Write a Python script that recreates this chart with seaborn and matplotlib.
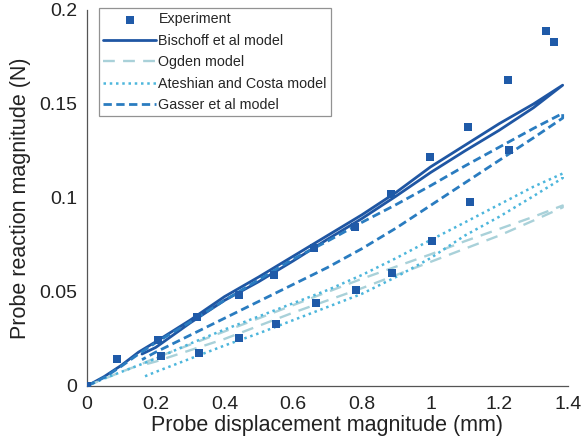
import numpy as np
import pandas as pd
import matplotlib as mpl
import matplotlib.pyplot as plt
import seaborn as sns

sns.set_style("white")
mpl.rcParams['font.family'] = ['Liberation Sans', 'DejaVu Sans']

# experiment (loading then unloading)
exp_x = [0.0, 0.087, 0.207, 0.32, 0.443, 0.545, 0.662, 0.78, 0.886, 1.0, 1.11, 1.227, 1.337,
         1.36, 1.23, 1.116, 1.005, 0.889, 0.784, 0.667, 0.551, 0.443, 0.326, 0.216]
exp_y = [0.0, 0.0144, 0.0245, 0.0367, 0.0484, 0.059, 0.0734, 0.0846, 0.102, 0.1218, 0.138, 0.163, 0.189,
         0.183, 0.1255, 0.098, 0.077, 0.060, 0.051, 0.044, 0.033, 0.0255, 0.0176, 0.016]

# model curves: loading branch followed by unloading branch
load_x = [0.0, 0.05, 0.1, 0.15, 0.2, 0.3, 0.4, 0.5, 0.6, 0.7, 0.8, 0.9, 1.0, 1.1, 1.2, 1.3, 1.385]
unload_x = [1.385, 1.3, 1.2, 1.1, 1.0, 0.9, 0.8, 0.7, 0.6, 0.5, 0.4, 0.3, 0.2, 0.16]

bischoff_load = [0.0, 0.005, 0.011, 0.018, 0.0235, 0.035, 0.0475, 0.058, 0.069, 0.080, 0.091, 0.103,
                 0.1165, 0.128, 0.1395, 0.150, 0.160]
bischoff_unload = [0.160, 0.148, 0.136, 0.125, 0.1135, 0.101, 0.089, 0.078, 0.0665, 0.0555, 0.0455,
                   0.0335, 0.0205, 0.017]

ogden_load = [0.0, 0.0038, 0.0075, 0.011, 0.015, 0.022, 0.029, 0.036, 0.043, 0.050, 0.057, 0.0635,
              0.070, 0.077, 0.0835, 0.090, 0.096]
ogden_unload = [0.095, 0.088, 0.080, 0.073, 0.066, 0.059, 0.052, 0.0455, 0.039, 0.032, 0.025, 0.019,
                0.013, 0.011]

ateshian_load = [0.0, 0.004, 0.0075, 0.011, 0.0145, 0.0225, 0.030, 0.037, 0.044, 0.051, 0.059, 0.068,
                 0.0776, 0.087, 0.0965, 0.106, 0.113]
ateshian_unload = [0.1106, 0.101, 0.090, 0.080, 0.068, 0.058, 0.049, 0.042, 0.035, 0.028, 0.0215,
                   0.0145, 0.0075, 0.0045]

gasser_load = [0.0, 0.0045, 0.0105, 0.017, 0.023, 0.034, 0.0455, 0.0565, 0.0675, 0.077, 0.087, 0.0965,
               0.1065, 0.117, 0.127, 0.137, 0.145]
gasser_unload = [0.1425, 0.132, 0.120, 0.108, 0.096, 0.084, 0.073, 0.063, 0.054, 0.045, 0.036, 0.027,
                 0.018, 0.014]

models = [
    ("Bischoff et al model", bischoff_load, bischoff_unload, "#1f56a3", "-", 2.0),
    ("Ogden model", ogden_load, ogden_unload, "#a9d1d9", (0, (5, 3.5)), 1.7),
    ("Ateshian and Costa model", ateshian_load, ateshian_unload, "#4db6dc", (0, (1, 1.5)), 1.8),
    ("Gasser et al model", gasser_load, gasser_unload, "#2a7cc0", (0, (3, 1.6)), 2.0),
]

fig = plt.figure(figsize=(5.86, 4.45), dpi=100)
ax = fig.add_axes([0.1485, 0.1326, 0.8205, 0.845])

sns.scatterplot(x=exp_x, y=exp_y, marker="s", s=38, color="#1f5aa8", edgecolor="#1f5aa8",
                linewidth=0, ax=ax, label="Experiment", zorder=5)

for name, yl, yu, col, ls, lw in models:
    df = pd.DataFrame({"x": load_x + unload_x, "y": yl + yu})
    sns.lineplot(data=df, x="x", y="y", sort=False, estimator=None, color=col, linestyle=ls,
                 linewidth=lw, ax=ax, label=name)

ax.set_xlim(0, 1.4)
ax.set_ylim(0, 0.2)
ax.set_xticks([0, 0.2, 0.4, 0.6, 0.8, 1.0, 1.2, 1.4])
ax.set_xticklabels(["0", "0.2", "0.4", "0.6", "0.8", "1", "1.2", "1.4"])
ax.set_yticks([0, 0.05, 0.1, 0.15, 0.2])
ax.set_yticklabels(["0", "0.05", "0.1", "0.15", "0.2"])
ax.tick_params(direction="in", length=4, labelsize=14, colors="#222222", width=0.8, pad=7)
for s in ["top", "right"]:
    ax.spines[s].set_visible(False)
for s in ["left", "bottom"]:
    ax.spines[s].set_color("#555555")
    ax.spines[s].set_linewidth(0.9)

ax.set_xlabel("Probe displacement magnitude (mm)", fontsize=15.5, color="#222222", labelpad=2)
ax.set_ylabel("Probe reaction magnitude (N)", fontsize=15.5, color="#222222", labelpad=6)

leg = ax.legend(loc="upper left", bbox_to_anchor=(0.025, 1.005), fontsize=10.3, frameon=True,
                fancybox=False, handlelength=3.7, handletextpad=0.15, borderpad=0.3,
                labelspacing=0.52, borderaxespad=0)
leg.get_frame().set_edgecolor("#777777")
leg.get_frame().set_linewidth(0.9)

fig.savefig("out.png", dpi=100)
